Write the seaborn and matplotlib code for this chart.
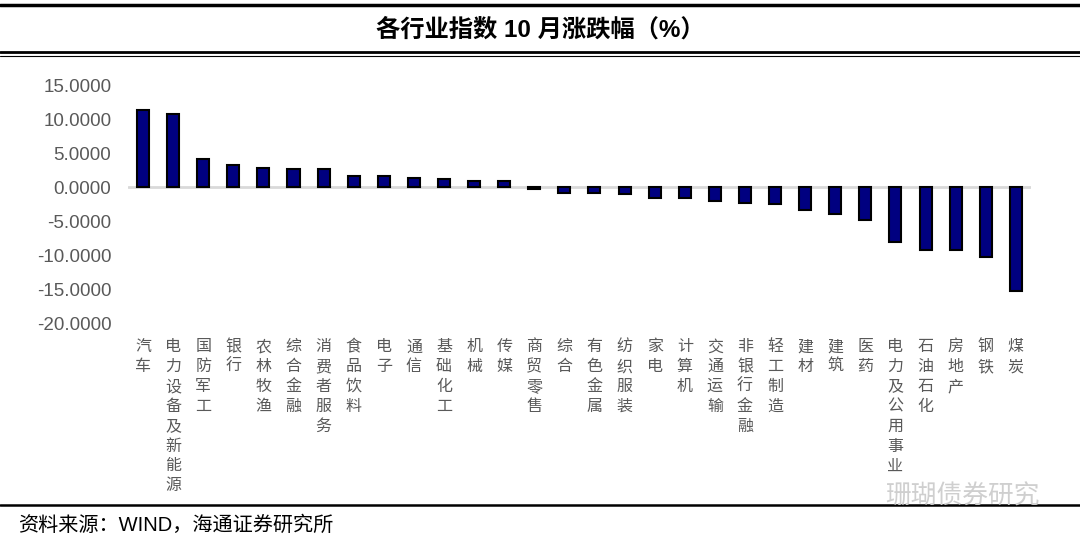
import seaborn as sns
import pandas as pd
import matplotlib.pyplot as plt
from matplotlib.lines import Line2D

# 行业与10月涨跌幅（%）
industries = ['汽车', '电力设备及新能源', '国防军工', '银行', '农林牧渔', '综合金融', '消费者服务',
              '食品饮料', '电子', '通信', '基础化工', '机械', '传媒', '商贸零售', '综合',
              '有色金属', '纺织服装', '家电', '计算机', '交通运输', '非银行金融', '轻工制造',
              '建材', '建筑', '医药', '电力及公用事业', '石油石化', '房地产', '钢铁', '煤炭']
changes = [11.30, 10.70, 4.10, 3.30, 2.80, 2.65, 2.60,
           1.66, 1.60, 1.32, 1.18, 0.88, 0.88, -0.25, -0.85,
           -0.85, -0.97, -1.55, -1.60, -2.00, -2.30, -2.55,
           -3.40, -3.90, -4.85, -8.10, -9.20, -9.30, -10.30, -15.30]
yticks = [15, 10, 5, 0, -5, -10, -15, -20]

df = pd.DataFrame({'industry': industries, 'change': changes})

sns.set_style("white")
plt.rcParams['font.family'] = ['Liberation Sans', 'Noto Sans CJK SC']

fig = plt.figure(figsize=(10.8, 5.47), dpi=100)
ax = fig.add_axes([0.1185, 0.4095, 0.836, 0.4351])

sns.barplot(data=df, x='industry', y='change', order=industries, color='#000080',
            saturation=1, width=0.4, edgecolor='black', linewidth=1.5, ax=ax, zorder=3)

ax.set_ylim(-20, 15)
ax.set_xlim(-0.5, len(industries) - 0.5)
ax.set_yticks(yticks)
ax.set_yticklabels([f'{v:.4f}' for v in yticks], fontsize=13.5, color='#595959')
ax.set_xticks(range(len(industries)))
ax.set_xticklabels(['\n'.join(s) for s in industries], fontsize=11.5, color='#595959',
                   va='top', linespacing=1.22, family=['Noto Sans CJK SC'])
ax.tick_params(axis='both', length=0)
ax.tick_params(axis='x', pad=11)
ax.tick_params(axis='y', pad=12)
ax.axhline(0, color='#d9d9d9', linewidth=2, zorder=2)
for sp in ax.spines.values():
    sp.set_visible(False)
ax.set_xlabel('')
ax.set_ylabel('')

# 标题与框线
fig.text(0.5, 1 - 30 / 547, '各行业指数 10 月涨跌幅（%）', ha='center', va='center',
         fontsize=17.5, fontweight='bold', color='black')
fig.add_artist(Line2D([0, 1], [1 - 5 / 547] * 2, color='black', linewidth=2.5))
fig.add_artist(Line2D([0, 1], [1 - 52 / 547] * 2, color='black', linewidth=2))
fig.add_artist(Line2D([0, 1], [1 - 55.5 / 547] * 2, color='black', linewidth=0.8))
fig.add_artist(Line2D([0, 1], [1 - 505 / 547] * 2, color='black', linewidth=1.8))

fig.text(885 / 1080, 1 - 497 / 547, '珊瑚债券研究', ha='left', va='center',
         fontsize=18.5, color='#cfcfcf', family=['Noto Sans CJK SC'])
fig.text(18 / 1080, 1 - 525 / 547, '资料来源：WIND，海通证券研究所', ha='left', va='center',
         fontsize=14.5, color='black')

plt.savefig('out.png', dpi=100)
